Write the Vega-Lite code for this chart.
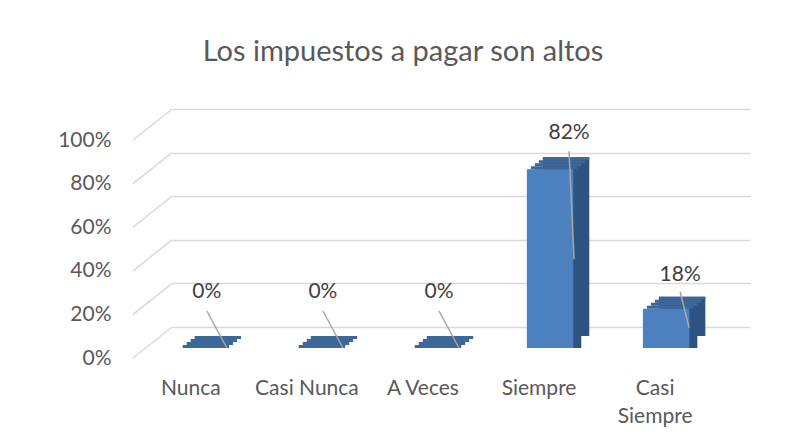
{
  "$schema": "https://vega.github.io/schema/vega-lite/v6.json",
  "autosize": {"type": "none"},
  "width": 578,
  "height": 218,
  "padding": {"left": 172, "top": 109, "right": 56, "bottom": 118},
  "background": "white",
  "config": {
    "view": {"stroke": null},
    "font": "Lato",
    "axis": {"labelFont": "Lato", "labelColor": "#595959", "labelFontSize": 21}
  },
  "title": {
    "text": "Los impuestos a pagar son altos",
    "font": "Lato",
    "fontSize": 29,
    "fontWeight": "normal",
    "color": "#595959",
    "anchor": "middle",
    "dx": -58,
    "offset": 41
  },
  "datasets": {
    "bars": [
      {"cat": "Nunca", "v": 0},
      {"cat": "Casi Nunca", "v": 0},
      {"cat": "A Veces", "v": 0},
      {"cat": "Siempre", "v": 0.82},
      {"cat": "Casi Siempre", "v": 0.18}
    ],
    "grid": [
      {"g": 0}, {"g": 0.2}, {"g": 0.4}, {"g": 0.6}, {"g": 0.8}, {"g": 1}
    ]
  },
  "data": {"name": "bars"},
  "layer": [
    {
      "data": {"name": "grid"},
      "mark": {"type": "rule", "color": "#D9D9D9", "strokeWidth": 1.5, "xOffset": -95.8, "x2Offset": -56.8, "yOffset": 31, "y2Offset": 0},
      "encoding": {
        "x": {"datum": "Nunca", "type": "nominal"},
        "x2": {"datum": "Nunca"},
        "y": {"field": "g", "type": "quantitative"},
        "y2": {"field": "g"}
      }
    },
    {
      "mark": {"type": "bar", "color": "#2E5281", "xOffset": -11, "x2Offset": -11, "yOffset": 9, "y2Offset": 9},
      "encoding": {
        "x": {"field": "cat", "type": "nominal"},
        "y": {"field": "v", "type": "quantitative"}
      }
    },
    {
      "mark": {"type": "bar", "color": "#2E5281", "xOffset": -19, "x2Offset": -19, "yOffset": 21, "y2Offset": 15},
      "encoding": {
        "x": {"field": "cat", "type": "nominal"},
        "y": {"field": "v", "type": "quantitative"}
      }
    },
    {
      "mark": {"type": "bar", "color": "#3D6699", "xOffset": -11, "x2Offset": -11, "yOffset": 9, "y2Offset": 12},
      "encoding": {
        "x": {"field": "cat", "type": "nominal"},
        "y": {"field": "v", "type": "quantitative"},
        "y2": {"field": "v"}
      }
    },
    {
      "mark": {"type": "bar", "color": "#3D6699", "xOffset": -15, "x2Offset": -15, "yOffset": 12, "y2Offset": 15},
      "encoding": {
        "x": {"field": "cat", "type": "nominal"},
        "y": {"field": "v", "type": "quantitative"},
        "y2": {"field": "v"}
      }
    },
    {
      "mark": {"type": "bar", "color": "#3D6699", "xOffset": -19, "x2Offset": -19, "yOffset": 15, "y2Offset": 18},
      "encoding": {
        "x": {"field": "cat", "type": "nominal"},
        "y": {"field": "v", "type": "quantitative"},
        "y2": {"field": "v"}
      }
    },
    {
      "mark": {"type": "bar", "color": "#3D6699", "xOffset": -23, "x2Offset": -23, "yOffset": 18, "y2Offset": 21},
      "encoding": {
        "x": {"field": "cat", "type": "nominal"},
        "y": {"field": "v", "type": "quantitative"},
        "y2": {"field": "v"}
      }
    },
    {
      "mark": {"type": "bar", "color": "#4D80BF", "xOffset": -27, "x2Offset": -27, "yOffset": 21, "y2Offset": 21},
      "encoding": {
        "x": {
          "field": "cat",
          "type": "nominal",
          "title": null,
          "scale": {"domain": ["Nunca", "Casi Nunca", "A Veces", "Siempre", "Casi Siempre"], "paddingInner": 0.6, "paddingOuter": 0.29},
          "axis": {
            "domain": false,
            "ticks": false,
            "grid": false,
            "labelAngle": 0,
            "labelAlign": "center",
            "labelPadding": 61,
            "labelOffset": -38,
            "labelLineHeight": 28,
            "labelBaseline": "middle",
            "labelExpr": "datum.label == 'Casi Siempre' ? ['Casi', 'Siempre'] : datum.label"
          }
        },
        "y": {
          "field": "v",
          "type": "quantitative",
          "title": null,
          "scale": {"domain": [0, 1], "nice": false, "zero": true},
          "axis": {
            "values": [0, 0.2, 0.4, 0.6, 0.8, 1],
            "format": ".0%",
            "domain": false,
            "ticks": false,
            "grid": true,
            "gridColor": "#D9D9D9",
            "gridWidth": 1.5,
            "labelPadding": 61,
            "labelOffset": 31,
            "labelBaseline": "middle"
          }
        }
      }
    },
    {
      "transform": [{"filter": "datum.v == 0"}],
      "layer": [
        {
          "mark": {"type": "rule", "color": "#A6A6A6", "strokeWidth": 1.5, "xOffset": -22, "x2Offset": -2, "yOffset": -16, "y2Offset": 21},
          "encoding": {
            "x": {"field": "cat", "type": "nominal"},
            "x2": {"field": "cat"},
            "y": {"field": "v", "type": "quantitative"},
            "y2": {"field": "v"}
          }
        },
        {
          "mark": {"type": "text", "font": "Lato", "fontSize": 21, "color": "#404040", "align": "center", "baseline": "middle", "dx": -22, "dy": -35},
          "encoding": {
            "x": {"field": "cat", "type": "nominal"},
            "y": {"field": "v", "type": "quantitative"},
            "text": {"field": "v", "type": "quantitative", "format": ".0%"}
          }
        }
      ]
    },
    {
      "transform": [{"filter": "datum.v > 0.5"}],
      "layer": [
        {
          "mark": {"type": "rule", "color": "#A6A6A6", "strokeWidth": 1.5, "xOffset": -8, "x2Offset": -3, "yOffset": 3, "y2Offset": 111},
          "encoding": {
            "x": {"field": "cat", "type": "nominal"},
            "x2": {"field": "cat"},
            "y": {"field": "v", "type": "quantitative"},
            "y2": {"field": "v"}
          }
        },
        {
          "mark": {"type": "text", "font": "Lato", "fontSize": 21, "color": "#404040", "align": "center", "baseline": "middle", "dx": -8, "dy": -15},
          "encoding": {
            "x": {"field": "cat", "type": "nominal"},
            "y": {"field": "v", "type": "quantitative"},
            "text": {"field": "v", "type": "quantitative", "format": ".0%"}
          }
        }
      ]
    },
    {
      "transform": [{"filter": "datum.v > 0 && datum.v < 0.5"}],
      "layer": [
        {
          "mark": {"type": "rule", "color": "#A6A6A6", "strokeWidth": 1.5, "xOffset": -13, "x2Offset": -4, "yOffset": 4, "y2Offset": 40},
          "encoding": {
            "x": {"field": "cat", "type": "nominal"},
            "x2": {"field": "cat"},
            "y": {"field": "v", "type": "quantitative"},
            "y2": {"field": "v"}
          }
        },
        {
          "mark": {"type": "text", "font": "Lato", "fontSize": 21, "color": "#404040", "align": "center", "baseline": "middle", "dx": -13, "dy": -13},
          "encoding": {
            "x": {"field": "cat", "type": "nominal"},
            "y": {"field": "v", "type": "quantitative"},
            "text": {"field": "v", "type": "quantitative", "format": ".0%"}
          }
        }
      ]
    }
  ]
}
